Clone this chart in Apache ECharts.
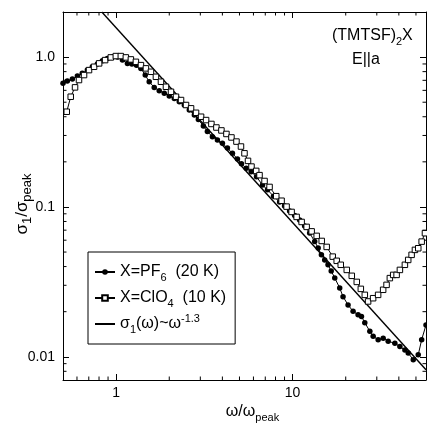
<!DOCTYPE html>
<html>
<head>
<meta charset="utf-8">
<script src="https://cdn.jsdelivr.net/npm/echarts@6/dist/echarts.min.js"></script>
<style>html,body{margin:0;padding:0;background:#fff;}#c{width:427px;height:425px;}</style>
</head>
<body>
<div id="c"></div>
<script>
// ---- data ----
const pf6X = [0.500,0.529,0.565,0.603,0.643,0.687,0.733,0.783,0.836,0.892,0.953,1.017,1.086,1.159,1.228,1.304,1.381,1.462,1.540,1.644,1.755,1.874,2.000,2.136,2.280,2.434,2.599,2.775,2.924,3.122,3.289,3.512,3.749,4.002,4.272,4.561,4.870,5.131,5.457,5.826,6.245,6.754,7.211,7.798,8.44,9.006,9.615,10.27,10.96,11.70,12.49,13.34,13.96,14.56,15.20,15.87,16.55,17.33,18.49,19.31,20.62,22.01,23.50,24.56,25.65,27.39,28.60,30.53,32.6,34.8,37.97,40.55,43.28,45.2,48.27,51.5,53.86,57.0];
const pf6Y = [0.668,0.692,0.713,0.747,0.779,0.819,0.862,0.898,0.945,0.980,1.000,1.000,0.955,0.908,0.898,0.884,0.841,0.759,0.684,0.628,0.596,0.573,0.550,0.530,0.503,0.479,0.443,0.411,0.383,0.347,0.319,0.294,0.280,0.266,0.247,0.228,0.209,0.194,0.181,0.172,0.159,0.140,0.130,0.118,0.108,0.1015,0.094,0.0878,0.0819,0.0747,0.0671,0.0587,0.0533,0.0479,0.0443,0.0411,0.0374,0.0336,0.0288,0.0252,0.0222,0.0201,0.0191,0.0186,0.0169,0.0148,0.0137,0.0130,0.0133,0.0127,0.0123,0.0117,0.0111,0.0106,0.00955,0.0103,0.0130,0.0163];
const clo4X = [0.525,0.553,0.585,0.616,0.658,0.702,0.750,0.801,0.866,0.933,0.996,1.063,1.135,1.212,1.294,1.382,1.475,1.575,1.681,1.795,1.916,2.046,2.184,2.332,2.489,2.658,2.837,3.029,3.234,3.466,3.700,3.950,4.217,4.502,4.807,5.099,5.338,5.588,5.848,6.220,6.494,6.934,7.403,8.080,8.660,9.245,9.870,10.54,11.25,12.01,12.82,13.69,14.62,15.60,16.88,17.78,18.74,20.27,21.64,23.10,24.35,25.65,26.78,28.59,30.52,32.59,34.07,35.57,37.15,38.84,40.55,43.28,45.19,47.25,49.34,51.52,53.86,56.23];
const clo4Y = [0.432,0.544,0.628,0.703,0.759,0.819,0.862,0.908,0.955,0.995,1.016,1.016,0.995,0.965,0.930,0.884,0.841,0.798,0.739,0.685,0.634,0.587,0.544,0.517,0.479,0.455,0.425,0.400,0.380,0.358,0.339,0.324,0.307,0.291,0.273,0.253,0.228,0.203,0.186,0.174,0.163,0.149,0.136,0.118,0.110,0.1005,0.0926,0.0858,0.0794,0.0736,0.0687,0.0641,0.0593,0.0541,0.0466,0.0437,0.0411,0.0380,0.0347,0.0316,0.0284,0.0259,0.0234,0.0246,0.0259,0.0280,0.0302,0.0335,0.0352,0.0352,0.0380,0.0411,0.0443,0.0479,0.0517,0.0530,0.0587,0.0668];
const fitX = [0.83, 57];
const fitY = [2.0, 0.0082];

const X_MIN = 0.5, X_MAX = 57;
const Y_MIN = 0.007, Y_MAX = 2.0;
const xMinorTicks = [0.6,0.7,0.8,0.9,2,3,4,5,6,7,8,9,20,30,40,50];
const yMinorTicks = [0.008,0.009,0.02,0.03,0.04,0.05,0.06,0.07,0.08,0.09,0.2,0.3,0.4,0.5,0.6,0.7,0.8,0.9];

const seriesNames = ['PF6', 'ClO4', 'fit'];
const legendLabels = {
  PF6: 'X=PF{sub|6}  (20 K)',
  ClO4: 'X=ClO{sub|4}  (10 K)',
  fit: '\u03c3{sub|1}(\u03c9)~\u03c9{sup|-1.3}'
};

// ---- chart ----
const FONT = "'Liberation Sans', Arial, Helvetica, sans-serif";
const richSS = {
  sub: { fontSize: 11, fontFamily: FONT, color: '#000', verticalAlign: 'bottom', lineHeight: 22 },
  sup: { fontSize: 11, fontFamily: FONT, color: '#000', verticalAlign: 'top', lineHeight: 22 }
};
const richName = {
  sub: { fontSize: 13, fontFamily: FONT, color: '#000', verticalAlign: 'bottom', lineHeight: 24 }
};
const zip = (a, b) => a.map((v, i) => [v, b[i]]);
const isPow10 = v => { const l = Math.log10(v); return Math.abs(l - Math.round(l)) < 1e-6; };

function xAxisCfg(pos, show) {
  return {
    type: 'log', logBase: 10, min: X_MIN, max: X_MAX, position: pos, gridIndex: 0,
    axisLine: { show: true, lineStyle: { color: '#000', width: 1 } },
    axisTick: { show: true, inside: true, length: 6, lineStyle: { color: '#000' } },
    axisLabel: {
      show: show, interval: 0, margin: 6, color: '#000', fontSize: 14, fontFamily: FONT,
      formatter: v => isPow10(v) ? String(Math.round(v)) : ''
    },
    splitLine: { show: false }, minorTick: { show: false },
    name: show ? '\u03c9/\u03c9{sub|peak}' : '', nameLocation: 'middle', nameGap: 21, nameMoveOverlap: false,
    nameTextStyle: { fontSize: 16, fontFamily: FONT, color: '#000', lineHeight: 16, padding: [0, 0, 0, 16], rich: richSS }
  };
}
function yAxisCfg(pos, show) {
  return {
    type: 'log', logBase: 10, min: Y_MIN, max: Y_MAX, position: pos, gridIndex: 0,
    axisLine: { show: true, lineStyle: { color: '#000', width: 1 } },
    axisTick: { show: true, inside: true, length: 6, lineStyle: { color: '#000' } },
    axisLabel: {
      show: show, interval: 0, margin: 8, color: '#000', fontSize: 14, fontFamily: FONT,
      formatter: v => {
        if (!isPow10(v)) return '';
        const l = Math.round(Math.log10(v));
        return l >= 0 ? '1.0' : v.toFixed(-l);
      }
    },
    splitLine: { show: false }, minorTick: { show: false },
    name: show ? '\u03c3{sub|1}/\u03c3{sub|peak}' : '', nameLocation: 'middle', nameGap: 29, nameRotate: 90,
    nameMoveOverlap: false,
    nameTextStyle: { fontSize: 17, fontFamily: FONT, color: '#000', lineHeight: 17, padding: [0, 16, 0, 0], rich: richName }
  };
}

const tickStyle = { stroke: '#000', lineWidth: 1 };
const chart = echarts.init(document.getElementById('c'), null, { renderer: 'canvas' });
chart.setOption({
  animation: false,
  backgroundColor: '#fff',
  grid: { left: 63, right: 1, top: 12, bottom: 45, containLabel: false, outerBoundsMode: 'none' },
  xAxis: [xAxisCfg('bottom', true), xAxisCfg('top', false)],
  yAxis: [yAxisCfg('left', true), yAxisCfg('right', false)],
  legend: {
    data: ['PF6', 'ClO4', { name: 'fit', icon: 'path://M0,0L200,0L200,20L0,20Z' }],
    orient: 'vertical', left: 88, top: 252,
    padding: [9, 9, 9, 6], itemGap: 4, itemWidth: 20, itemHeight: 7,
    borderColor: '#000', borderWidth: 1, backgroundColor: '#fff', borderRadius: 0,
    formatter: name => legendLabels[name],
    textStyle: { fontSize: 16, fontFamily: FONT, color: '#000', lineHeight: 16, rich: richSS }
  },
  graphic: [
    { type: 'text', left: 332, top: 25, silent: true,
      style: { text: '(TMTSF){sub|2}X', fontSize: 16, fontFamily: FONT, fill: '#000', lineHeight: 16, rich: richSS } },
    { type: 'text', left: 352, top: 52, silent: true,
      style: { text: 'E||a', fontSize: 16, fontFamily: FONT, fill: '#000' } }
  ],
  series: [
    { name: 'fit', type: 'line', xAxisIndex: 0, yAxisIndex: 0, data: zip(fitX, fitY),
      symbol: 'none', lineStyle: { color: '#000', width: 1.4 }, itemStyle: { color: '#000' }, z: 2 },
    { name: 'PF6', type: 'line', xAxisIndex: 0, yAxisIndex: 0, data: zip(pf6X, pf6Y),
      symbol: 'circle', symbolSize: 5.5, showAllSymbol: true,
      lineStyle: { color: '#000', width: 1 }, itemStyle: { color: '#000' }, z: 3 },
    { name: 'ClO4', type: 'line', xAxisIndex: 0, yAxisIndex: 0, data: zip(clo4X, clo4Y),
      symbol: 'rect', symbolSize: 5.5, showAllSymbol: true,
      lineStyle: { color: '#000', width: 1 }, itemStyle: { color: '#fff', borderColor: '#000', borderWidth: 1 }, z: 4 },
    { name: 'xminor', type: 'custom', xAxisIndex: 0, yAxisIndex: 0, silent: true, clip: false,
      data: xMinorTicks.map(v => [v, Y_MIN]),
      renderItem: (params, api) => {
        const b = api.coord([api.value(0), Y_MIN]);
        const t = api.coord([api.value(0), Y_MAX]);
        return { type: 'group', children: [
          { type: 'line', shape: { x1: b[0], y1: b[1], x2: b[0], y2: b[1] - 3.5 }, style: tickStyle },
          { type: 'line', shape: { x1: t[0], y1: t[1], x2: t[0], y2: t[1] + 3.5 }, style: tickStyle }
        ] };
      } },
    { name: 'yminor', type: 'custom', xAxisIndex: 0, yAxisIndex: 0, silent: true, clip: false,
      data: yMinorTicks.map(v => [X_MIN, v]),
      renderItem: (params, api) => {
        const l = api.coord([X_MIN, api.value(1)]);
        const r = api.coord([X_MAX, api.value(1)]);
        return { type: 'group', children: [
          { type: 'line', shape: { x1: l[0], y1: l[1], x2: l[0] + 3.5, y2: l[1] }, style: tickStyle },
          { type: 'line', shape: { x1: r[0], y1: r[1], x2: r[0] - 3.5, y2: r[1] }, style: tickStyle }
        ] };
      } }
  ]
});
</script>
</body>
</html>
